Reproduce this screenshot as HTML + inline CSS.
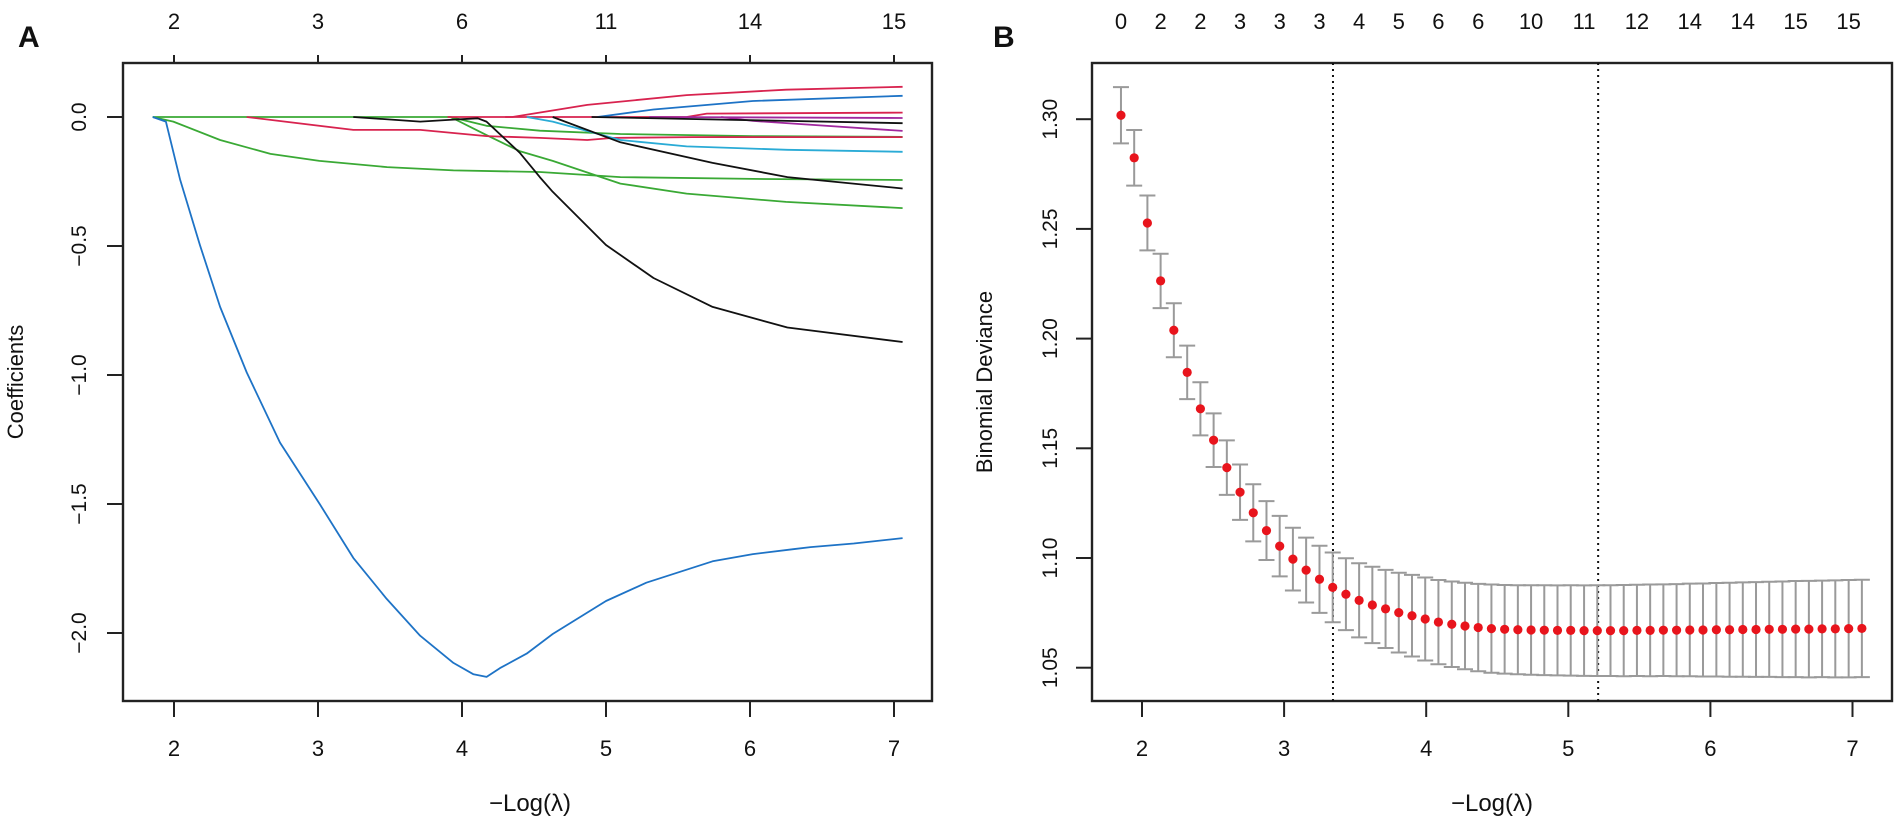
<!DOCTYPE html>
<html>
<head>
<meta charset="utf-8">
<style>
html,body{margin:0;padding:0;background:#fff;}
svg{display:block;}
text{font-family:"Liberation Sans Narrow","Liberation Sans",sans-serif;fill:#111;}
.tick{font-size:22px;}
.ytick{font-family:"Liberation Sans",sans-serif;font-size:21px;}
.title{font-size:24px;}
.panel{font-family:"Liberation Sans",sans-serif;font-size:30px;font-weight:bold;}
</style>
</head>
<body>
<svg id="chart" width="1902" height="825" viewBox="0 0 1902 825" xmlns="http://www.w3.org/2000/svg">
  <g id="panelA"></g>
  <g id="panelB"></g>
</svg>
<script>
// ---------- Panel A data ----------
const aXTicks = [2,3,4,5,6,7];
const aTopLabels = ["2","3","6","11","14","15"];
const aYTicks = [0.0,-0.5,-1.0,-1.5,-2.0];
const aYTickLabels = ["0.0","-0.5","-1.0","-1.5","-2.0"];

const blueBigL = [1.852,1.944,2.042,2.18,2.32,2.505,2.736,3.014,3.245,3.477,3.708,3.94,4.08,4.171,4.264,4.449,4.63,5.0,5.28,5.74,6.02,6.30,6.42,6.72,7.06];
const blueBigV = [0,-0.018,-0.241,-0.496,-0.736,-0.99,-1.262,-1.502,-1.709,-1.868,-2.01,-2.116,-2.16,-2.17,-2.136,-2.08,-2.004,-1.876,-1.805,-1.722,-1.694,-1.675,-1.667,-1.653,-1.632];
const green1L = [1.852,1.995,2.32,2.67,3.01,3.48,3.94,4.54,5.10,6.02,7.06];
const green1V = [0,-0.018,-0.089,-0.143,-0.170,-0.194,-0.207,-0.213,-0.233,-0.24,-0.244];
const green2L = [1.852,3.92,4.17,4.54,5.10,6.02,7.06];
const green2V = [0,0,-0.034,-0.053,-0.066,-0.074,-0.077];
const green3L = [3.92,4.17,4.40,4.63,5.10,5.56,6.25,7.06];
const green3V = [0,-0.07,-0.132,-0.17,-0.258,-0.297,-0.329,-0.353];
const red1L = [2.505,3.245,3.71,4.17,4.54,4.87,5.05,5.6,7.06];
const red1V = [0,-0.05,-0.05,-0.074,-0.081,-0.089,-0.081,-0.078,-0.078];
const red2L = [3.9,4.35,4.87,5.56,6.25,7.06];
const red2V = [0,0,0.047,0.085,0.106,0.117];
const red3L = [4.3,5.56,5.7,7.06];
const red3V = [0,0,0.013,0.017];
const black1L = [3.245,3.71,3.94,4.11,4.17,4.40,4.54,4.63,5.0,5.33,5.74,6.26,7.06];
const black1V = [0,-0.018,-0.01,-0.005,-0.018,-0.138,-0.233,-0.29,-0.496,-0.624,-0.736,-0.816,-0.872];
const black2L = [4.63,5.10,5.74,6.26,7.06];
const black2V = [0,-0.098,-0.178,-0.233,-0.277];
const black3L = [4.9,5.8,7.06];
const black3V = [0,-0.01,-0.024];
const blue2L = [4.94,5.33,6.02,7.06];
const blue2V = [0,0.029,0.062,0.082];
const cyanL = [4.45,4.63,5.10,5.56,6.26,7.06];
const cyanV = [0,-0.018,-0.089,-0.114,-0.127,-0.135];
const purple1L = [5.8,6.02,7.06];
const purple1V = [0,-0.015,-0.054];
const purple2L = [5.3,7.06];
const purple2V = [0,-0.004];

// ---------- Panel B data ----------
const bXTicks = [2,3,4,5,6,7];
const bYTicks = [1.05,1.10,1.15,1.20,1.25,1.30];
const bYTickLabels = ["1.05","1.10","1.15","1.20","1.25","1.30"];
const logLambda = [1.852,1.945,2.038,2.131,2.224,2.318,2.411,2.504,2.597,2.690,2.783,2.876,2.969,3.062,3.155,3.249,3.342,3.435,3.528,3.621,3.714,3.807,3.900,3.993,4.086,4.180,4.273,4.366,4.459,4.552,4.645,4.738,4.831,4.924,5.017,5.111,5.204,5.297,5.390,5.483,5.576,5.669,5.762,5.855,5.948,6.042,6.135,6.228,6.321,6.414,6.507,6.600,6.693,6.786,6.879,6.973,7.066];
const meanDev = [1.3018,1.2824,1.2527,1.2263,1.2038,1.1846,1.1680,1.1537,1.1412,1.1300,1.1206,1.1125,1.1054,1.0995,1.0945,1.0903,1.0866,1.0835,1.0807,1.0786,1.0768,1.0751,1.0737,1.0722,1.0708,1.0698,1.0690,1.0683,1.0678,1.0675,1.0673,1.0672,1.0671,1.0670,1.0670,1.0669,1.0669,1.0669,1.0669,1.0670,1.0670,1.0671,1.0671,1.0672,1.0672,1.0673,1.0673,1.0674,1.0674,1.0675,1.0675,1.0676,1.0676,1.0677,1.0677,1.0678,1.0679];
const seDev = [0.0128,0.0127,0.0125,0.0124,0.0123,0.0122,0.0121,0.0122,0.0124,0.0126,0.0130,0.0134,0.0138,0.0143,0.0148,0.0153,0.0159,0.0164,0.0169,0.0174,0.0178,0.0182,0.0186,0.0189,0.0192,0.0195,0.0197,0.0199,0.0201,0.0202,0.0203,0.0204,0.0205,0.0205,0.0206,0.0206,0.0207,0.0207,0.0208,0.0208,0.0209,0.0209,0.0210,0.0211,0.0212,0.0213,0.0214,0.0215,0.0216,0.0217,0.0218,0.0219,0.0220,0.0220,0.0221,0.0222,0.0222];
const topLabelIdx = [0,3,6,9,12,15,18,21,24,27,31,35,39,43,47,51,55];
const topLabels = ["0","2","2","3","3","3","4","5","6","6","10","11","12","14","14","15","15"];
const lambdaMin = 3.344;
const lambda1se = 5.21;

const NS = "http://www.w3.org/2000/svg";
function mk(tag, attrs, parent){
  const e = document.createElementNS(NS, tag);
  for (const k in attrs) e.setAttribute(k, attrs[k]);
  parent.appendChild(e);
  return e;
}

// ---------- Panel A ----------
const A = document.getElementById('panelA');
const axL = 123, axR = 932, axT = 63, axB = 701;
const ax = v => 174 + (v - 2) * 144;
const ay = v => 117 - v * 258;

const boxA = mk('rect', {x:axL, y:axT, width:axR-axL, height:axB-axT, fill:'none', stroke:'#222', 'stroke-width':2.4}, A);



aXTicks.forEach((t,i) => {
  const x = ax(t);
  const tk = mk('line', {x1:x, x2:x, y1:axB, y2:axB+16, stroke:'#222', 'stroke-width':2}, A);
  
  
  const lb = mk('text', {x:x, y:756, 'text-anchor':'middle', class:'tick'}, A);
  lb.textContent = String(t);
  
  
  const tt = mk('line', {x1:x, x2:x, y1:axT, y2:axT-8, stroke:'#222', 'stroke-width':2}, A);
  
  
  const tl = mk('text', {x:x, y:29, 'text-anchor':'middle', class:'tick'}, A);
  tl.textContent = aTopLabels[i];
  
  
});
aYTicks.forEach((t,i) => {
  const y = ay(t);
  const tk = mk('line', {x1:axL-16, x2:axL, y1:y, y2:y, stroke:'#222', 'stroke-width':2}, A);
  
  
  const lb = mk('text', {x:0, y:0, 'text-anchor':'middle', class:'ytick', transform:`translate(86,${y}) rotate(-90)`}, A);
  lb.textContent = aYTickLabels[i].replace('-', '\u2212');
  
  
});
const ytA = mk('text', {x:0, y:0, 'text-anchor':'middle', class:'title', transform:'translate(23,382) rotate(-90)', style:'font-family:"Liberation Sans",sans-serif;font-size:22px'}, A);
ytA.textContent = 'Coefficients';


const xtA = mk('text', {x:530, y:811, 'text-anchor':'middle', class:'title'}, A);
xtA.textContent = '\u2212Log(\u03bb)';


const labA = mk('text', {x:18, y:47, class:'panel'}, A);
labA.textContent = 'A';



const paths = [
  [green1L, green1V, '#3aa935', 'coef-path-green-1'],
  [green2L, green2V, '#3aa935', 'coef-path-green-2'],
  [green3L, green3V, '#3aa935', 'coef-path-green-3'],
  [red1L, red1V, '#d8234f', 'coef-path-red-1'],
  [red2L, red2V, '#d8234f', 'coef-path-red-2'],
  [red3L, red3V, '#d8234f', 'coef-path-red-3'],
  [purple2L, purple2V, '#a0289e', 'coef-path-purple-2'],
  [purple1L, purple1V, '#a0289e', 'coef-path-purple-1'],
  [cyanL, cyanV, '#2aabd6', 'coef-path-cyan'],
  [blue2L, blue2V, '#1e73c6', 'coef-path-blue-2'],
  [black3L, black3V, '#111111', 'coef-path-black-3'],
  [black2L, black2V, '#111111', 'coef-path-black-2'],
  [black1L, black1V, '#111111', 'coef-path-black-1'],
  [blueBigL, blueBigV, '#1e73c6', 'coef-path-blue-1']
];
paths.forEach(p => {
  const L = p[0], V = p[1];
  const pts = L.map((l,i) => ax(l).toFixed(1) + ',' + ay(V[i]).toFixed(1)).join(' ');
  const pl = mk('polyline', {points:pts, fill:'none', stroke:p[2], 'stroke-width':1.8, 'stroke-linejoin':'round'}, A);
  
  
});

// ---------- Panel B ----------
const B = document.getElementById('panelB');
const bL = 1092, bR = 1892, bT = 63, bB = 701;
const bx = v => 1142 + (v - 2) * 142.1;
const by = v => 558 - (v - 1.10) * 2194;

const boxB = mk('rect', {x:bL, y:bT, width:bR-bL, height:bB-bT, fill:'none', stroke:'#222', 'stroke-width':2.4}, B);



bXTicks.forEach(t => {
  const x = bx(t);
  const tk = mk('line', {x1:x, x2:x, y1:bB, y2:bB+16, stroke:'#222', 'stroke-width':2}, B);
  
  
  const lb = mk('text', {x:x, y:756, 'text-anchor':'middle', class:'tick'}, B);
  lb.textContent = String(t);
  
  
});
bYTicks.forEach((t,i) => {
  const y = by(t);
  const tk = mk('line', {x1:bL-16, x2:bL, y1:y, y2:y, stroke:'#222', 'stroke-width':2}, B);
  
  
  const lb = mk('text', {x:0, y:0, 'text-anchor':'middle', class:'ytick', transform:`translate(1057,${y}) rotate(-90)`}, B);
  lb.textContent = bYTickLabels[i];
  
  
});
topLabelIdx.forEach((idx,i) => {
  const lb = mk('text', {x:bx(logLambda[idx]), y:29, 'text-anchor':'middle', class:'tick'}, B);
  lb.textContent = topLabels[i];
  
  
});
const ytB = mk('text', {x:0, y:0, 'text-anchor':'middle', class:'title', transform:'translate(992,382) rotate(-90)', style:'font-family:"Liberation Sans",sans-serif;font-size:22px'}, B);
ytB.textContent = 'Binomial Deviance';


const xtB = mk('text', {x:1492, y:811, 'text-anchor':'middle', class:'title'}, B);
xtB.textContent = '\u2212Log(\u03bb)';


const labB = mk('text', {x:993, y:47, class:'panel'}, B);
labB.textContent = 'B';



[lambdaMin, lambda1se].forEach((l,i) => {
  const x = bx(l);
  const vl = mk('line', {x1:x, x2:x, y1:bT, y2:bB, stroke:'#111', 'stroke-width':2, 'stroke-dasharray':'2,4'}, B);
  
  
});

logLambda.forEach((l,i) => {
  const x = bx(l), m = meanDev[i], s = seDev[i];
  const yU = by(m + s), yD = by(m - s);
  const g = mk('g', {}, B);
  
  
  mk('line', {x1:x, x2:x, y1:yU, y2:yD, stroke:'#9a9a9a', 'stroke-width':2}, g);
  mk('line', {x1:x-8, x2:x+8, y1:yU, y2:yU, stroke:'#9a9a9a', 'stroke-width':2}, g);
  mk('line', {x1:x-8, x2:x+8, y1:yD, y2:yD, stroke:'#9a9a9a', 'stroke-width':2}, g);
});
logLambda.forEach((l,i) => {
  const c = mk('circle', {cx:bx(l), cy:by(meanDev[i]), r:4.6, fill:'#e8141c'}, B);
  
  
});
</script>
</body>
</html>
